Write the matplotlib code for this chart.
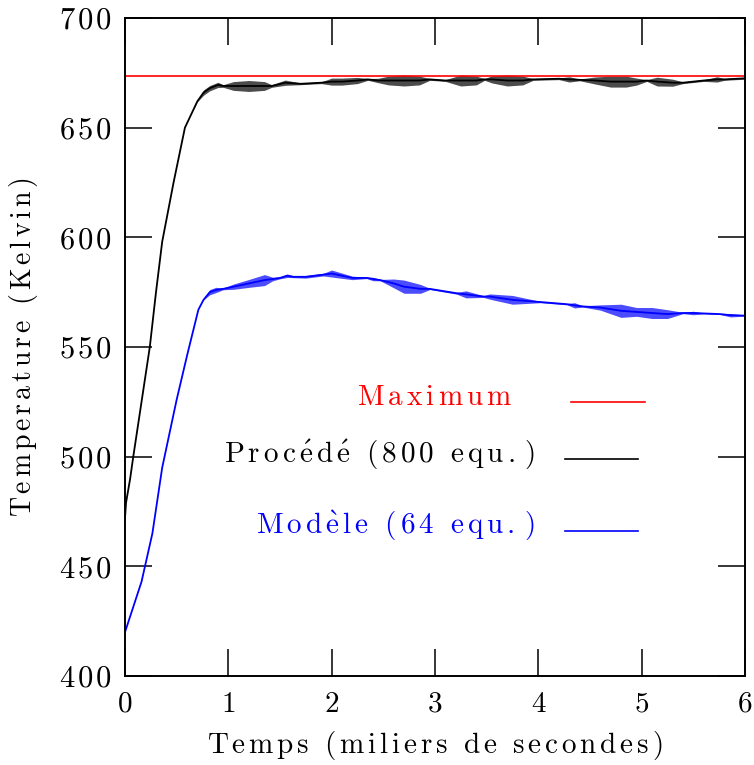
import numpy as np
import matplotlib
matplotlib.use("Agg")
import matplotlib.pyplot as plt

plt.rcParams["font.family"] = ["cmr10", "DejaVu Serif"]
plt.rcParams["mathtext.fontset"] = "cm"
plt.rcParams["axes.formatter.use_mathtext"] = True

# temperature maximum (Kelvin)
t_max = 673.5

# Procédé (800 equ.): time (10^3 s), mean level, half-width of the noise band
t_proc = [0, 0.01, 0.05, 0.08, 0.16, 0.24, 0.30, 0.36, 0.47, 0.58, 0.65, 0.70,
          0.76, 0.82, 0.9, 0.95, 1.05, 1.2, 1.35, 1.42, 1.55, 1.7, 1.9, 2.0,
          2.1, 2.25, 2.35, 2.45, 2.55, 2.7, 2.85, 2.95, 3.1, 3.25, 3.4, 3.48,
          3.55, 3.7, 3.85, 3.95, 4.2, 4.3, 4.4, 4.55, 4.7, 4.85, 4.95, 5.05,
          5.15, 5.3, 5.4, 5.6, 5.73, 5.8, 6.0]
T_proc = [472, 479, 490, 500, 525, 550, 575, 598, 625, 650, 657, 662,
          666, 668, 669.5, 669, 669, 669, 669, 669, 670.5, 670, 670.5, 671,
          671, 671.5, 672, 671.5, 671.5, 671.5, 671.5, 672, 671.5, 671.5, 671.5, 672,
          672, 671.5, 671.5, 672, 672.3, 672, 671.8, 671.5, 671, 671, 671, 671.5,
          671, 670.5, 670.5, 671.5, 672, 672, 672.5]
hw_proc = [0, 0, 0, 0, 0, 0, 0, 0, 0, 0, 0, 0.2,
           1.2, 1.2, 1.2, 0.6, 2, 2.5, 2, 0.6, 1.2, 0.4, 0.4, 1.6,
           1.6, 1.4, 0.4, 1, 2, 2.5, 2, 0.4, 0.4, 2.5, 2, 0.4,
           1.6, 2.5, 2, 0.4, 0.4, 1.2, 0.4, 1.6, 2.5, 2.5, 1.6, 0.4,
           2, 1.6, 0.4, 0.4, 1.2, 0.4, 0.4]

# Modèle (64 equ.)
t_mod = [0, 0.16, 0.265, 0.36, 0.5, 0.6, 0.71, 0.76, 0.82, 0.88, 0.95, 1.05,
         1.2, 1.35, 1.43, 1.5, 1.57, 1.63, 1.75, 1.92, 2.0, 2.2, 2.34, 2.4,
         2.47, 2.6, 2.7, 2.86, 2.95, 3.21, 3.3, 3.47, 3.53, 3.75, 4.02, 4.28,
         4.35, 4.43, 4.6, 4.8, 4.95, 5.1, 5.25, 5.4, 5.5, 5.6, 5.76, 5.86, 6.0]
T_mod = [420, 443, 465, 495, 526, 546, 567, 571.5, 575, 576, 576.5, 577.5,
         579, 580.5, 581, 581.5, 582.5, 582, 582, 583, 583.5, 581.5, 581.5, 581,
         580.5, 579, 577.5, 576.5, 576.5, 574.5, 574, 573, 573, 571.5, 570.5, 569.5,
         569, 568.5, 568, 566.5, 566, 565.5, 565, 565.5, 565.5, 565.3, 565, 564.5, 564.3]
hw_mod = [0, 0, 0, 0, 0, 0, 0, 0, 1.2, 1.2, 0.4, 1.2,
          1.8, 2.5, 0.8, 0.4, 0.8, 0.4, 0.6, 0.6, 1.6, 0.8, 0.3, 0.8,
          0.3, 2, 3, 2, 0.3, 0.4, 1.6, 0.4, 1.2, 2, 0.3, 0.3,
          1.2, 0.3, 1.2, 3, 2, 2.5, 2, 0.3, 0.8, 0.2, 0.2, 0.8, 0.2]

x_ticks = [0, 1, 2, 3, 4, 5, 6]
y_ticks = [400, 450, 500, 550, 600, 650, 700]

labels = ["Maximum", "Procédé (800 equ.)", "Modèle (64 equ.)"]
colors = ["#ff0000", "#000000", "#0000ff"]


def spaced(s, gap):
    # gnuplot-like letter spacing, done with mathtext in Computer Modern
    toks = []
    for ch in s:
        if ch == " ":
            toks.append(r"\ ")
        elif ch == "é":
            toks.append(r"\acute{e}")
        elif ch == "è":
            toks.append(r"\grave{e}")
        else:
            toks.append(ch)
    return r"$\mathrm{" + (r"\hspace{%g}" % gap).join(toks) + "}$"


def main():
    fig = plt.figure(figsize=(7.54, 7.65), dpi=100)
    ax = fig.add_axes([125 / 754, 89 / 765, 620 / 754, 658 / 765])

    ax.axhline(t_max, color=colors[0], lw=1.2)

    for t, T, hw, c in [(t_proc, T_proc, hw_proc, colors[1]),
                        (t_mod, T_mod, hw_mod, colors[2])]:
        t = np.array(t)
        T = np.array(T)
        hw = np.array(hw)
        ax.fill_between(t, T - hw, T + hw, color=c, lw=0, alpha=0.7)
        ax.plot(t, T, color=c, lw=1.3)

    ax.set_xlim(0, 6)
    ax.set_ylim(400, 700)
    ax.set_xticks(x_ticks)
    ax.set_xticklabels([spaced(str(v), 0) for v in x_ticks], fontsize=21)
    ax.set_yticks(y_ticks)
    ax.set_yticklabels([spaced(str(v), 0.12) for v in y_ticks], fontsize=22)
    ax.tick_params(direction="in", length=19.5, width=1.1, top=True, right=True)
    ax.tick_params(axis="x", pad=11)
    ax.tick_params(axis="y", pad=9)
    for sp in ax.spines.values():
        sp.set_linewidth(1.4)

    ax.set_xlabel(spaced("Temps (miliers de secondes)", 0.15), fontsize=21,
                  labelpad=8)
    ax.set_ylabel(spaced("Temperature (Kelvin)", 0.16), fontsize=20,
                  labelpad=14)

    # legend drawn by hand, gnuplot style
    rows = [(0.6258, 0.4119, 0.7194, 0.8387, 0.4164),
            (0.6613, 0.3237, 0.7097, 0.8274, 0.3298),
            (0.6613, 0.2158, 0.7097, 0.8274, 0.2204)]
    for (tx, ty, x0, x1, ly), lab, c in zip(rows, labels, colors):
        ax.text(tx, ty, spaced(lab, 0.16), color=c, fontsize=21, ha="right",
                va="baseline", transform=ax.transAxes)
        ax.plot([x0, x1], [ly, ly], color=c, lw=1.2, transform=ax.transAxes)

    fig.savefig("out.png", dpi=100)


if __name__ == "__main__":
    main()
